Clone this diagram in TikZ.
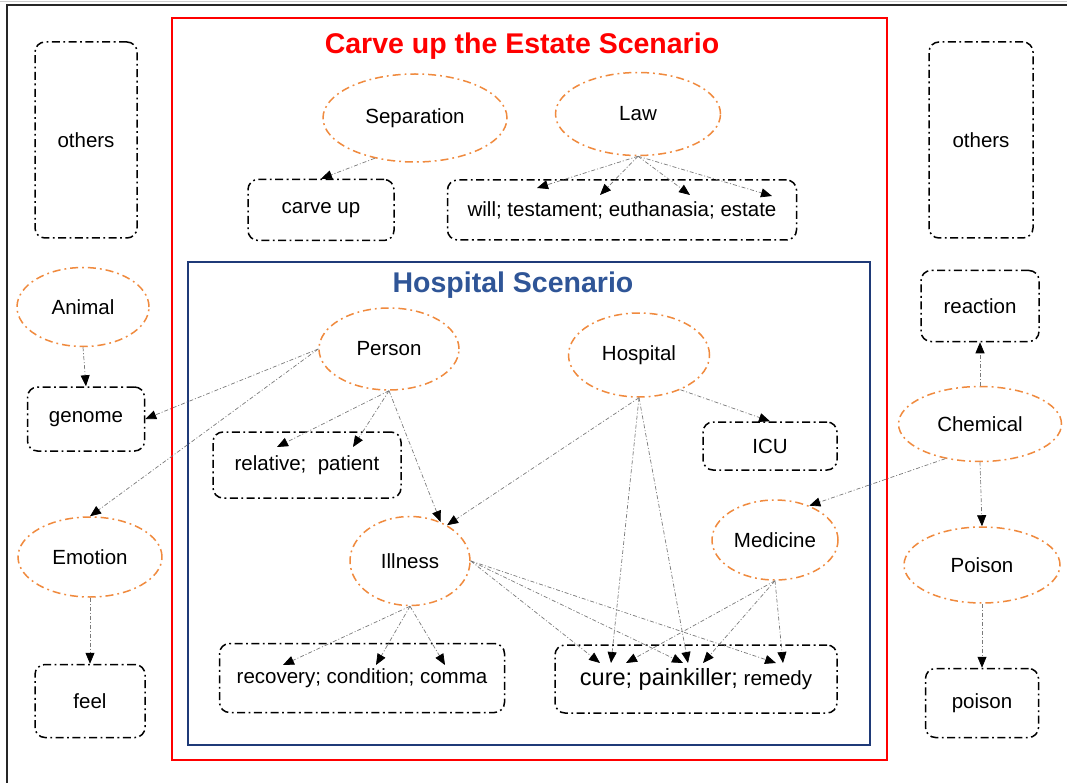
\documentclass[tikz,border=0pt]{standalone}
\usepackage{fontspec}
\setmainfont{Liberation Sans}
\usetikzlibrary{shapes.geometric,arrows.meta}
\definecolor{orng}{HTML}{F08A3E}
\definecolor{frameblue}{HTML}{1F3A78}
\definecolor{titleblue}{HTML}{2F5597}
\definecolor{linkgray}{HTML}{7A7A7A}
\tikzset{
  concept/.style={ellipse, draw=orng, line width=1.5pt,
    dash pattern=on 8pt off 4pt on 1.8pt off 4pt,
    inner sep=0pt, font=\fontsize{20.5}{23}\selectfont},
  wordbox/.style={rectangle, rounded corners=10pt, draw=black, line width=1.5pt,
    dash pattern=on 8pt off 3.5pt on 1.8pt off 3.5pt,
    inner sep=0pt, font=\fontsize{20.5}{23}\selectfont},
  link/.style={draw=linkgray, line width=0.7pt,
    dash pattern=on 4pt off 2pt on 1pt off 2pt,
    -{Triangle[length=11pt,width=9pt,color=black]}},
  scenetitle/.style={font=\fontsize{28.5}{32}\selectfont\bfseries}
}
\begin{document}
\begin{tikzpicture}[x=1pt,y=-1pt]
\useasboundingbox (0,0) rectangle (1067,783);
\fill[white] (0,0) rectangle (1067,783);
% outer frame
\draw[black!20, line width=1pt] (0,1.5) -- (1067,1.5);
\draw[black!85, line width=2pt] (7,783) -- (7,5) -- (1067,5);
% scenario frames
\draw[red, line width=1.6pt] (172,18) rectangle (887,760);
\node[scenetitle, text=red] (t1) at (522,46) {Carve up the Estate Scenario};
\draw[frameblue, line width=1.6pt] (188,262) rectangle (870,745);
\node[scenetitle, text=titleblue] (t2) at (513,285) {Hospital Scenario};

% left column
\node[wordbox, minimum width=102pt, minimum height=196pt] (othL) at (86,140) {others};
\node[concept, minimum width=132pt, minimum height=79pt] (animal) at (83,307) {Animal};
\node[wordbox, minimum width=117pt, minimum height=64pt] (genome) at (86,419) {genome};
\node[concept, minimum width=144pt, minimum height=80pt] (emotion) at (90,557) {Emotion};
\node[wordbox, minimum width=110pt, minimum height=73pt] (feel) at (90,701) {feel};

% right column
\node[wordbox, minimum width=104pt, minimum height=196pt] (othR) at (981,140) {others};
\node[wordbox, minimum width=118pt, minimum height=71pt] (reaction) at (980,306) {reaction};
\node[concept, minimum width=163pt, minimum height=75pt] (chemical) at (980,424) {Chemical};
\node[concept, minimum width=156pt, minimum height=76pt] (poisonC) at (982,565) {Poison};
\node[wordbox, minimum width=113pt, minimum height=69pt] (poisonW) at (982,703) {poison};

% estate scenario
\node[concept, minimum width=184pt, minimum height=88pt] (separation) at (415,118) {Separation};
\node[concept, minimum width=165pt, minimum height=83pt] (law) at (638,114) {Law};
\node[wordbox, minimum width=146pt, minimum height=61pt] (carve) at (321,210) {carve up};
\node[wordbox, minimum width=349pt, minimum height=60pt] (will) at (622,210) {will; testament; euthanasia; estate};

% hospital scenario
\node[concept, minimum width=140pt, minimum height=82pt] (person) at (389,349) {Person};
\node[concept, minimum width=141pt, minimum height=84pt] (hospital) at (639,355) {Hospital};
\node[wordbox, minimum width=188pt, minimum height=66pt] (relative) at (307,465) {relative;\ \ patient};
\node[wordbox, minimum width=134pt, minimum height=48pt] (icu) at (770,446) {ICU};
\node[concept, minimum width=120pt, minimum height=89pt] (illness) at (410,561) {Illness};
\node[concept, minimum width=126pt, minimum height=80pt] (medicine) at (775,540) {Medicine};
\node[wordbox, minimum width=285pt, minimum height=69pt] (recovery) at (362,678) {recovery; condition; comma};
\node[wordbox, minimum width=282pt, minimum height=68pt] (cure) at (696,679)
  {{\fontsize{23.5}{25}\selectfont cure; painkiller;} remedy};

% arrow targets inside word boxes
\coordinate (w1) at (537,188);
\coordinate (w2) at (600,195);
\coordinate (w3) at (690,195);
\coordinate (w4) at (772,196);
\coordinate (r1) at (277,447);
\coordinate (r2) at (353,447);
\coordinate (k1) at (283,665);
\coordinate (k2) at (376,665);
\coordinate (k3) at (445,665);
\coordinate (c1) at (600,663);
\coordinate (c2) at (611,663);
\coordinate (c3) at (626,663);
\coordinate (p1) at (683,663);
\coordinate (p2) at (688,663);
\coordinate (p3) at (703,663);
\coordinate (m1) at (776,663);
\coordinate (m2) at (783,663);

% connectors
\draw[link] (separation.225) -- (carve.north);
\foreach \t in {w1,w2,w3,w4} \draw[link] (law.south) -- (\t);
\draw[link] (person.west) -- (genome.east);
\draw[link] (person.west) -- (emotion.north);
\draw[link] (person.south) -- (r1);
\draw[link] (person.south) -- (r2);
\draw[link] (person.south) -- (illness.52);
\draw[link] (hospital.south) -- (illness.44);
\draw[link] (hospital.320) -- (icu.north);
\draw[link] (hospital.south) -- (c2);
\draw[link] (hospital.south) -- (p2);
\foreach \t in {c1,p1,m1} \draw[link] (illness.east) -- (\t);
\foreach \t in {k1,k2,k3} \draw[link] (illness.south) -- (\t);
\foreach \t in {c3,p3,m2} \draw[link] (medicine.south) -- (\t);
\draw[link] (chemical.225) -- (medicine.45);
\draw[link] (chemical.north) -- (reaction.south);
\draw[link] (chemical.south) -- (poisonC.north);
\draw[link] (poisonC.south) -- (poisonW.north);
\draw[link] (animal.south) -- (genome.north);
\draw[link] (emotion.south) -- (feel.north);
\end{tikzpicture}
\end{document}
